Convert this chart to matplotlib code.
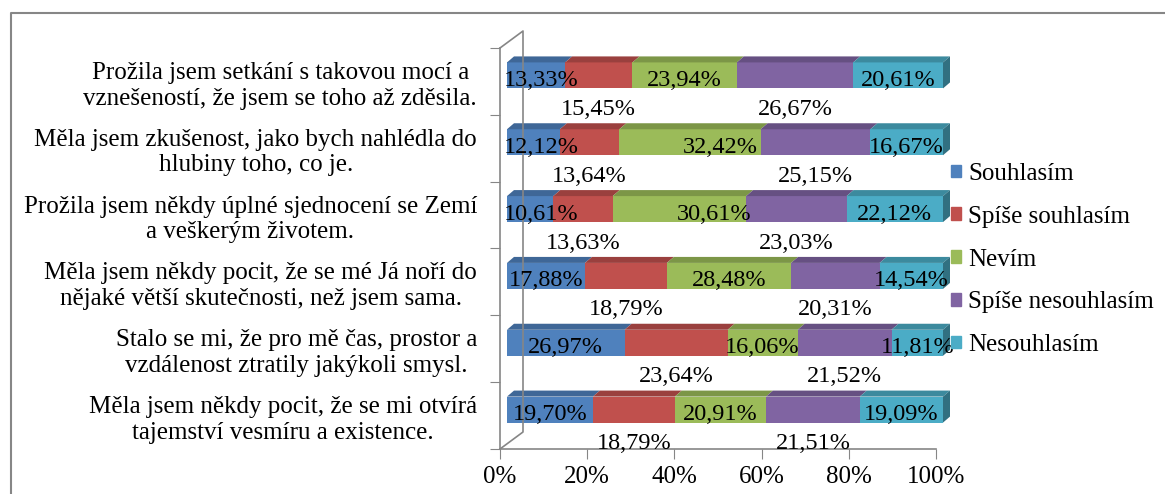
import numpy as np
import matplotlib.pyplot as plt
from matplotlib.patches import Polygon, Patch
from matplotlib.lines import Line2D
from matplotlib.transforms import ScaledTranslation

plt.rc('font', family='Liberation Serif', size=18)

# data (percent of answers per statement)
statements = [
    "Prožila jsem setkání s takovou mocí a\nvznešeností, že jsem se toho až zděsila.",
    "Měla jsem zkušenost, jako bych nahlédla do\nhlubiny toho, co je.",
    "Prožila jsem někdy úplné sjednocení se Zemí\na veškerým životem.",
    "Měla jsem někdy pocit, že se mé Já noří do\nnějaké větší skutečnosti, než jsem sama.",
    "Stalo se mi, že pro mě čas, prostor a\nvzdálenost ztratily jakýkoli smysl.",
    "Měla jsem někdy pocit, že se mi otvírá\ntajemství vesmíru a existence.",
]
series = ["Souhlasím", "Spíše souhlasím", "Nevím", "Spíše nesouhlasím", "Nesouhlasím"]
souhlasim = [13.33, 12.12, 10.61, 17.88, 26.97, 19.70]
spise_souhlasim = [15.45, 13.64, 13.63, 18.79, 23.64, 18.79]
nevim = [23.94, 32.42, 30.61, 28.48, 16.06, 20.91]
spise_nesouhlasim = [26.67, 25.15, 23.03, 20.31, 21.52, 21.51]
nesouhlasim = [20.61, 16.67, 22.12, 14.54, 11.81, 19.09]
colors = ["#4F81BD", "#C0504D", "#9BBB59", "#8064A2", "#4BACC6"]

data = [souhlasim, spise_souhlasim, nevim, spise_nesouhlasim, nesouhlasim]

#figure
W, H = 1165, 494
fig = plt.figure(figsize=(W/100, H/100), dpi=100, facecolor="white")
ax = fig.add_axes([500/W, (H-449)/H, 436/W, 401/H])
ax.set_xlim(0, 100)
ax.set_ylim(5.5, -0.5)

px_x = 436/100.0   # pixels per percent
px_y = 401/6.0     # pixels per category
bar_h = 26/px_y
ddx = 7/px_x
ddy = 6/px_y

# bars sit a bit behind the front plane
front = ax.transData + ScaledTranslation(7/100, 6/100, fig.dpi_scale_trans)

def darker(c, f):
    r, g, b = [int(c[i:i+2], 16)/255 for i in (1, 3, 5)]
    return (r*f, g*f, b*f)

y = np.arange(len(statements))
left = np.zeros(len(statements))
# small shifts of some labels, as in the original
nudge = {(1, 2): 7.0, (2, 2): 8.0}
lab_fs = 17.5

for j, vals in enumerate(data):
    vals = np.array(vals)
    ax.barh(y, vals, left=left, height=bar_h, color=colors[j],
            transform=front, linewidth=0, clip_on=False)
    for i in range(len(y)):
        l = left[i]
        r = l + vals[i]
        t = y[i] - bar_h/2
        b = y[i] + bar_h/2
        ax.add_patch(Polygon([(l, t), (r, t), (r+ddx, t-ddy), (l+ddx, t-ddy)],
                             closed=True, color=darker(colors[j], 0.8),
                             linewidth=0, transform=front, clip_on=False))
        if j == len(data)-1:
            ax.add_patch(Polygon([(r, t), (r, b), (r+ddx, b-ddy), (r+ddx, t-ddy)],
                                 closed=True, color=darker(colors[j], 0.65),
                                 linewidth=0, transform=front, clip_on=False))
        txt = ("%.2f%%" % vals[i]).replace(".", ",")
        cx = l + vals[i]/2 + nudge.get((i, j), 0)
        ty = y[i] + 5/px_y
        if j % 2 == 0:
            if j == 0 and vals[i] < 15:
                ax.text(-0.7, ty, txt, ha="left", va="center",
                        transform=front, fontsize=lab_fs)
            else:
                ax.text(cx, ty, txt, ha="center", va="center",
                        transform=front, fontsize=lab_fs)
        else:
            ax.text(cx, y[i] + 34/px_y, txt, ha="center", va="center",
                    transform=front, fontsize=lab_fs)
    left = left + vals

#axes
grey = "#868686"
for s in ["top", "right"]:
    ax.spines[s].set_visible(False)
for s in ["left", "bottom"]:
    ax.spines[s].set_color(grey)
    ax.spines[s].set_linewidth(1.2)
ax.set_xticks(np.arange(0, 101, 20))
ax.set_xticklabels(["%d%%" % v for v in range(0, 101, 20)], fontsize=18)
ax.tick_params(axis="x", length=7, color=grey, pad=5)
ax.set_yticks(np.arange(-0.5, 6, 1.0))
ax.set_yticklabels([])
ax.tick_params(axis="y", which="major", length=7, color=grey)
ax.set_yticks(y, minor=True)
ax.set_yticklabels(statements, minor=True, fontsize=18,
                   multialignment="center", linespacing=1.22)
ax.tick_params(axis="y", which="minor", length=0, pad=16.5)

# back wall
dxa, dya = 23/436, 17/401
ax.plot([0, dxa, dxa, 0], [1, 1+dya, dya, 0], color=grey, lw=1.2,
        transform=ax.transAxes, clip_on=False)

#legend
handles = [Patch(color=c, label=s) for c, s in zip(colors, series)]
fig.legend(handles=handles, loc="upper left", bbox_to_anchor=(951/W, 1-163/H),
           frameon=False, fontsize=18, handlelength=0.4, handleheight=0.4,
           handletextpad=0.3, labelspacing=0.83, borderpad=0, borderaxespad=0)

# chart border
fig.add_artist(Line2D([11/W, 11/W, 1], [0, 1-13/H, 1-13/H],
                      transform=fig.transFigure, color=grey, lw=1.5))

fig.savefig("out.png", dpi=100)
